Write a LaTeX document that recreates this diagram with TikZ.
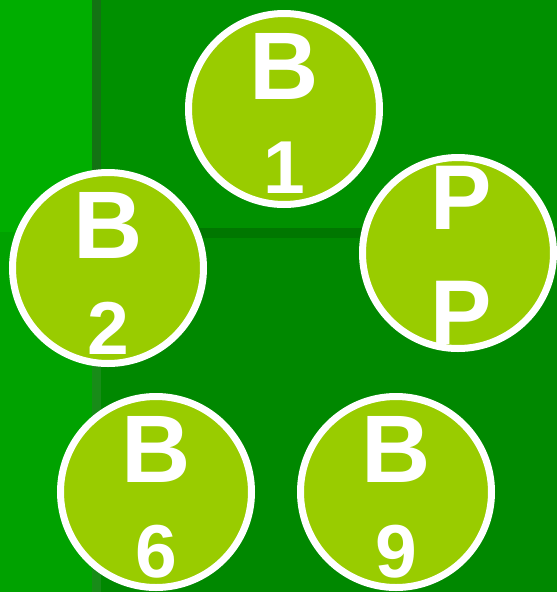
\documentclass[tikz,border=0pt]{standalone}
\usepackage{fontspec}
\setmainfont{Liberation Sans}
\definecolor{leftTop}{HTML}{00AE00}
\definecolor{leftBot}{HTML}{00A200}
\definecolor{stripeTop}{HTML}{137313}
\definecolor{stripeBot}{HTML}{188C18}
\definecolor{rightTop}{HTML}{009000}
\definecolor{hstripe}{HTML}{007700}
\definecolor{rightBot}{HTML}{008800}
\definecolor{ballgreen}{HTML}{99CC00}
\begin{document}
\begin{tikzpicture}[x=1pt,y=-1pt,
  ball/.style={circle, draw=white, line width=7pt, fill=ballgreen, minimum size=191pt, inner sep=0pt},
  letter/.style={text=white, font=\fontsize{96}{96}\selectfont\bfseries, anchor=base, inner sep=0pt},
  pletter/.style={text=white, font=\fontsize{92}{92}\selectfont\bfseries, anchor=base, inner sep=0pt},
  digit/.style={text=white, font=\fontsize{75}{75}\selectfont\bfseries, anchor=base, inner sep=0pt}]
\useasboundingbox (0,0) rectangle (557,592);
% background panels
\fill[leftTop] (0,0) rectangle (92,232);
\fill[leftBot] (0,232) rectangle (92,592);
\fill[stripeTop] (92,0) rectangle (101,232);
\fill[stripeBot] (92,232) rectangle (101,592);
\fill[rightTop] (101,0) rectangle (557,228);
\fill[hstripe] (101,228) rectangle (557,238);
\fill[rightBot] (101,238) rectangle (557,592);
% balls
\node[ball] (c1) at (284,109) {};
\node[ball] (c2) at (108,268) {};
\node[ball] (cp) at (458,253) {};
\node[ball] (c6) at (156,492) {};
\node[ball] (c9) at (396,492) {};
% labels
\node[letter] (b1) at ([yshift=10pt]c1.center) {B};
\node[digit] (n1) at ([yshift=-84pt]c1.center) {1};
\node[letter] (b2) at ([yshift=10pt]c2.center) {B};
\node[digit] (n2) at ([yshift=-86pt]c2.center) {2};
\node[pletter] (p1) at ([xshift=3pt,yshift=24pt]cp.center) {P};
\node[pletter] (p2) at ([xshift=3pt,yshift=-91pt]cp.center) {P};
\node[letter] (b6) at ([yshift=10pt]c6.center) {B};
\node[digit] (n6) at ([yshift=-85pt]c6.center) {6};
\node[letter] (b9) at ([yshift=10pt]c9.center) {B};
\node[digit] (n9) at ([yshift=-85pt]c9.center) {9};
\end{tikzpicture}
\end{document}
